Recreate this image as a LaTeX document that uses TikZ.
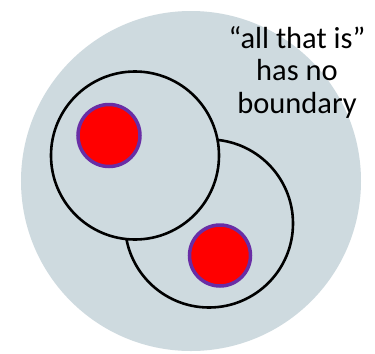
\documentclass[tikz,border=0pt]{standalone}
\usepackage{fontspec}
\setmainfont{Carlito}
\definecolor{bggray}{RGB}{206,218,223}
\definecolor{dotpurple}{RGB}{105,45,165}
\definecolor{dotred}{RGB}{255,0,0}
\tikzset{
  ring/.style={draw=black, line width=2.6bp, fill=bggray},
  dot/.style={circle, draw=dotpurple, line width=3.5bp, fill=dotred, inner sep=0pt, minimum size=#1},
  note/.style={align=center, font=\fontsize{30.5bp}{32.5bp}\selectfont, text=black, inner sep=0pt}
}
\begin{document}
\begin{tikzpicture}[x=1bp,y=-1bp]
\useasboundingbox (0,0) rectangle (375,354);
\fill[white] (0,0) rectangle (375,354);
\node[circle, fill=bggray, minimum size=340bp, inner sep=0pt] (world) at (191,181) {};
\node[circle, ring, minimum size=168bp, inner sep=0pt] (lower) at (209,223.5) {};
\node[circle, ring, minimum size=168bp, inner sep=0pt] (upper) at (135,155.5) {};
\node[dot=62bp] (dotA) at (109,135.5) {};
\node[dot=61bp] (dotB) at (220,255.5) {};
\node[note, anchor=base] (txt) at (297,113) {“all that is”\\has no\\boundary};
\end{tikzpicture}
\end{document}
